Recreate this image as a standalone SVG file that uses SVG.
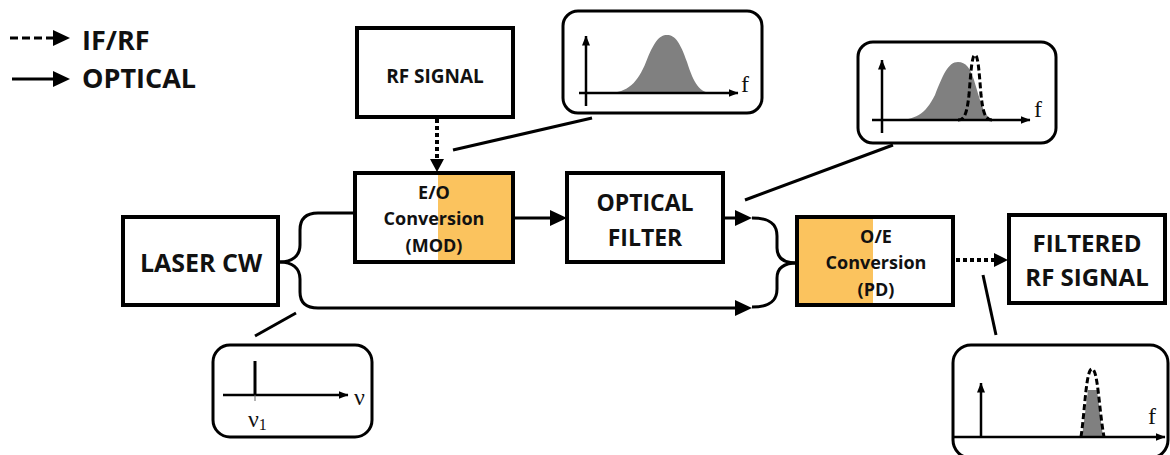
<svg xmlns="http://www.w3.org/2000/svg" width="1170" height="455" viewBox="0 0 1170 455">
<defs>
<style>
.box{fill:#fff;stroke:#000;stroke-width:4}
.spec{fill:#fff;stroke:#000;stroke-width:3}
.lbl{font-family:"Open Sans","Liberation Sans",sans-serif;font-weight:bold;fill:#111;text-anchor:middle}
.leg{font-family:"Open Sans","Liberation Sans",sans-serif;font-weight:bold;fill:#111;font-size:27px}
.ln{fill:none;stroke:#000;stroke-width:3}
.dot{fill:none;stroke:#000;stroke-width:4;stroke-dasharray:4 3}
.ax{fill:none;stroke:#000;stroke-width:2.5}
.ser{font-family:"Liberation Serif","Times New Roman",serif;fill:#111}
.gr{fill:#808080}
.dsh{fill:none;stroke:#000;stroke-width:3;stroke-dasharray:6 3}
</style>
<marker id="as" markerWidth="10" markerHeight="8" refX="9.5" refY="4" orient="auto" markerUnits="userSpaceOnUse" viewBox="0 0 10 8"><path d="M0,0 L10,4 L0,8 Z" fill="#000"/></marker>
</defs>

<g id="legend">
<line x1="10" y1="38" x2="56" y2="38" stroke="#000" stroke-width="3" stroke-dasharray="8 4"/>
<path d="M53,30 L70,38 L53,46 Z" fill="#000"/>
<text class="leg" x="82" y="50">IF/RF</text>
<line x1="12" y1="79" x2="56" y2="79" stroke="#000" stroke-width="3"/>
<path d="M53,71 L70,79 L53,87 Z" fill="#000"/>
<text class="leg" x="82" y="88">OPTICAL</text>
</g>

<g id="connectors">
<line class="dot" x1="437" y1="119" x2="437" y2="160"/>
<path d="M430,159 L437,172 L444,159 Z" fill="#000"/>
<path class="ln" d="M280,262 C292,262 300,256 300,245 L300,230 C300,219 306,213 318,213 L355,213"/>
<path class="ln" d="M280,262 C292,262 300,268 300,279 L300,292 C300,303 306,308 318,308 L738,308"/>
<path d="M735,300 L752,308 L735,316 Z" fill="#000"/>
<line class="ln" x1="513" y1="218" x2="553" y2="218"/>
<path d="M550,210 L567,218 L550,226 Z" fill="#000"/>
<line class="ln" x1="723" y1="218" x2="738" y2="218"/>
<path d="M735,210 L752,218 L735,226 Z" fill="#000"/>
<path class="ln" d="M752,218 C770,218 777,224 777,236 L777,248 C777,258 784,263 797,263"/>
<path class="ln" d="M752,307 C770,307 777,301 777,289 L777,278 C777,268 784,263 797,263"/>
<line class="dot" x1="956" y1="260" x2="996" y2="260"/>
<path d="M994,253 L1008,260 L994,267 Z" fill="#000"/>
<line class="ln" x1="453" y1="150" x2="592" y2="118"/>
<line class="ln" x1="745" y1="200" x2="893" y2="145"/>
<line class="ln" x1="296" y1="313" x2="255" y2="336"/>
<line class="ln" x1="983" y1="275" x2="996" y2="335"/>
</g>

<g id="rf-signal">
<rect class="box" x="357" y="28" width="156" height="89"/>
<text class="lbl" x="435" y="83" font-size="19">RF SIGNAL</text>
</g>

<g id="eo">
<rect class="box" x="355" y="173" width="158" height="89"/>
<rect x="438" y="175" width="73" height="85" fill="#FBC35E"/>
<text class="lbl" x="434" y="199" font-size="18">E/O</text>
<text class="lbl" x="434" y="225" font-size="18">Conversion</text>
<text class="lbl" x="434" y="252" font-size="18">(MOD)</text>
</g>

<g id="laser">
<rect class="box" x="123" y="217" width="155" height="88"/>
<text class="lbl" x="201" y="272" font-size="25">LASER CW</text>
</g>

<g id="filter">
<rect class="box" x="567" y="173" width="156" height="89"/>
<text class="lbl" x="645" y="211" font-size="23">OPTICAL</text>
<text class="lbl" x="645" y="246" font-size="23">FILTER</text>
</g>

<g id="oe">
<rect class="box" x="797" y="217" width="156" height="88"/>
<rect x="799" y="219" width="74" height="84" fill="#FBC35E"/>
<text class="lbl" x="876" y="243" font-size="18">O/E</text>
<text class="lbl" x="876" y="269" font-size="18">Conversion</text>
<text class="lbl" x="876" y="296" font-size="18">(PD)</text>
</g>

<g id="filtered">
<rect class="box" x="1009" y="215" width="156" height="88"/>
<text class="lbl" x="1087" y="252" font-size="24">FILTERED</text>
<text class="lbl" x="1087" y="286" font-size="24">RF SIGNAL</text>
</g>

<g id="spec-rf">
<rect class="spec" x="563" y="11" width="199" height="102" rx="15"/>
<path class="gr" d="M608,93 C628,93 638,82 646,62 C654,42 659,35 667,35 C675,35 680,42 687,62 C694,84 700,93 712,93 Z"/>
<line class="ax" x1="586" y1="106" x2="586" y2="36" marker-end="url(#as)"/>
<line class="ax" x1="579" y1="93" x2="738" y2="93" marker-end="url(#as)"/>
<text class="ser" x="741" y="92" font-size="24">f</text>
</g>

<g id="spec-filt">
<rect class="spec" x="858" y="42" width="198" height="101" rx="15"/>
<path class="gr" d="M895,120 C915,120 925,115 935,95 C943,75 948,62 958,62 C966,62 970,68 974,80 C980,100 984,117 992,119 L998,120 Z"/>
<path class="dsh" d="M958,120 C965,120 967,112 969,95 C971,70 972,55 975,55 C978,55 979,70 981,95 C983,112 985,120 992,120"/>
<line class="ax" x1="882" y1="133" x2="882" y2="60" marker-end="url(#as)"/>
<line class="ax" x1="872" y1="120" x2="1030" y2="120" marker-end="url(#as)"/>
<text class="ser" x="1034" y="117" font-size="24">f</text>
</g>

<g id="spec-laser">
<rect class="spec" x="213" y="345" width="159" height="92" rx="17"/>
<line class="ax" x1="223" y1="395" x2="348" y2="395" marker-end="url(#as)"/>
<line x1="255" y1="361" x2="255" y2="395" stroke="#000" stroke-width="3"/>
<line x1="255" y1="395" x2="255" y2="401" stroke="#666" stroke-width="1"/>
<text class="ser" x="354" y="405" font-size="24">ν</text>
<text class="ser" x="248" y="427" font-size="24">ν<tspan font-size="16" dy="3">1</tspan></text>
</g>

<g id="spec-out">
<rect class="spec" x="953" y="345" width="215" height="113" rx="18"/>
<path class="gr" d="M1082,437 L1088,390 L1097,390 L1103,437 Z"/>
<path class="dsh" d="M1081,437 C1085,410 1086,369 1092,369 C1098,369 1099,410 1104,437"/>
<line class="ax" x1="981" y1="437" x2="981" y2="383" marker-end="url(#as)"/>
<line class="ax" x1="952" y1="437" x2="1165" y2="437" marker-end="url(#as)"/>
<text class="ser" x="1148" y="424" font-size="24">f</text>
</g>
</svg>
